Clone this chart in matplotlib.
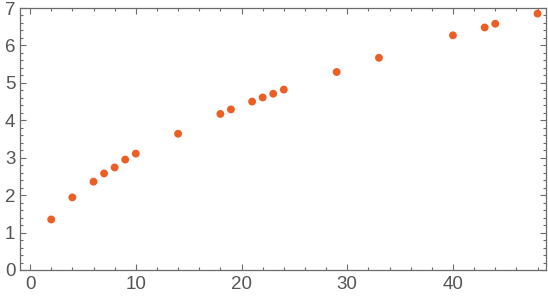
import matplotlib
matplotlib.use("Agg")
import matplotlib.pyplot as plt
from matplotlib.ticker import MultipleLocator

# values
x_vals = [2, 4, 6, 7, 8, 9, 10, 14, 18, 19, 21, 22, 23, 24, 29, 33, 40, 43, 44, 48]
y_vals = [1.35, 1.94, 2.36, 2.58, 2.74, 2.95, 3.11, 3.64, 4.17, 4.29, 4.50, 4.61,
          4.71, 4.82, 5.29, 5.67, 6.27, 6.48, 6.58, 6.85]
x_ticks = [0, 10, 20, 30, 40]
y_ticks = [0, 1, 2, 3, 4, 5, 6, 7]

frame_col = "#6b6b6b"
label_col = "#555555"
dot_col = "#ec5f24"

plt.rcParams["font.family"] = ["Liberation Sans", "DejaVu Sans"]

fig = plt.figure(figsize=(5.48, 2.98), dpi=100)
ax = fig.add_axes([19.5 / 548, 28 / 298, (546 - 19.5) / 548, (270 - 8) / 298])

ax.scatter(x_vals, y_vals, s=32, color=dot_col, edgecolors="none", zorder=3)

ax.set_xlim(-1, 48.8)
ax.set_ylim(0, 7)
ax.set_xticks(x_ticks)
ax.set_yticks(y_ticks)
ax.xaxis.set_minor_locator(MultipleLocator(2))
ax.yaxis.set_minor_locator(MultipleLocator(0.2))

for s in ax.spines.values():
    s.set_color(frame_col)
    s.set_linewidth(0.9)

ax.tick_params(which="both", direction="in", top=True, right=True, color=frame_col, width=0.8)
ax.tick_params(which="major", length=4.5, labelsize=13.5, labelcolor=label_col, pad=4)
ax.tick_params(which="minor", length=2.5)
ax.tick_params(axis="y", which="major", pad=3)
ax.tick_params(axis="x", labeltop=False)
ax.tick_params(axis="y", labelright=False)

fig.savefig("out.png", dpi=100)
plt.close(fig)
